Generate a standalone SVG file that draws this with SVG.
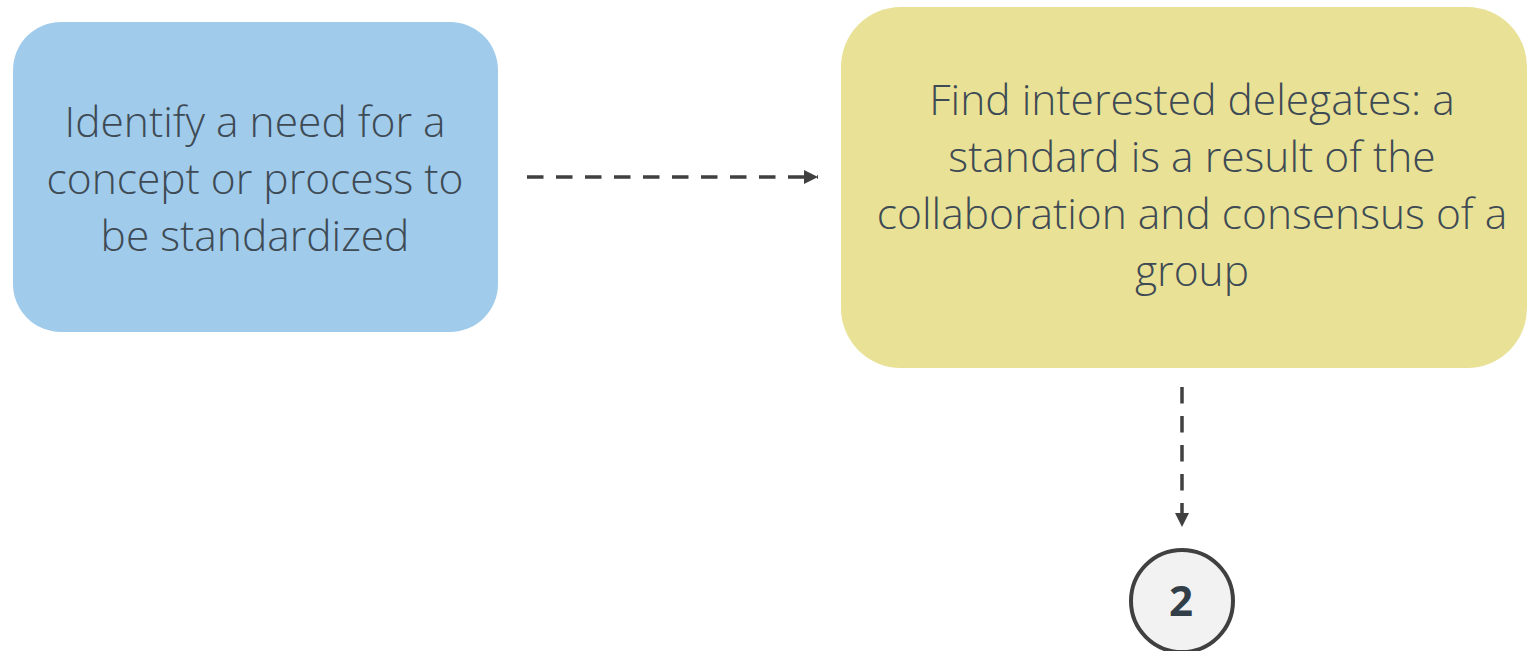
<svg xmlns="http://www.w3.org/2000/svg" width="1527" height="651" viewBox="0 0 1527 651">
  <defs>
    <style>
      .lbl { font-family: "Open Sans", "Liberation Sans", sans-serif; font-weight: 300; font-size: 42.5px; fill: #3e4a54; text-anchor: middle; }
      .num { font-family: "Open Sans", "Liberation Sans", sans-serif; font-weight: 700; font-size: 42px; fill: #333f48; text-anchor: middle; }
      .conn { fill: none; stroke: #404040; stroke-width: 3.5; stroke-dasharray: 16.5 12.5; }
    </style>
    <marker id="arrow" viewBox="0 0 10 10" refX="10" refY="5" markerWidth="16" markerHeight="14" markerUnits="userSpaceOnUse" orient="auto">
      <path d="M0,0 L10,5 L0,10 Z" fill="#404040"/>
    </marker>
  </defs>
  <rect width="1527" height="651" fill="#ffffff"/>
  <g id="node-identify">
    <rect x="13" y="22" width="485" height="310" rx="48" ry="48" fill="#a0cbeb"/>
    <text class="lbl" x="255" y="137">Identify a need for a</text>
    <text class="lbl" x="255" y="194">concept or process to</text>
    <text class="lbl" x="255" y="251">be standardized</text>
  </g>
  <g id="node-delegates">
    <rect x="841" y="7" width="686" height="361" rx="60" ry="60" fill="#e8e196"/>
    <text class="lbl" x="1192" y="115">Find interested delegates: a</text>
    <text class="lbl" x="1192" y="172">standard is a result of the</text>
    <text class="lbl" x="1192" y="229">collaboration and consensus of a</text>
    <text class="lbl" x="1192" y="286">group</text>
  </g>
  <g id="node-2">
    <circle cx="1182" cy="601" r="51" fill="#f2f2f2" stroke="#404040" stroke-width="4"/>
    <text class="num" x="1181" y="616">2</text>
  </g>
  <g id="connectors">
    <path class="conn" d="M527,177 L818,177" marker-end="url(#arrow)"/>
    <path class="conn" d="M1182,387 L1182,527" marker-end="url(#arrow)"/>
  </g>
</svg>
